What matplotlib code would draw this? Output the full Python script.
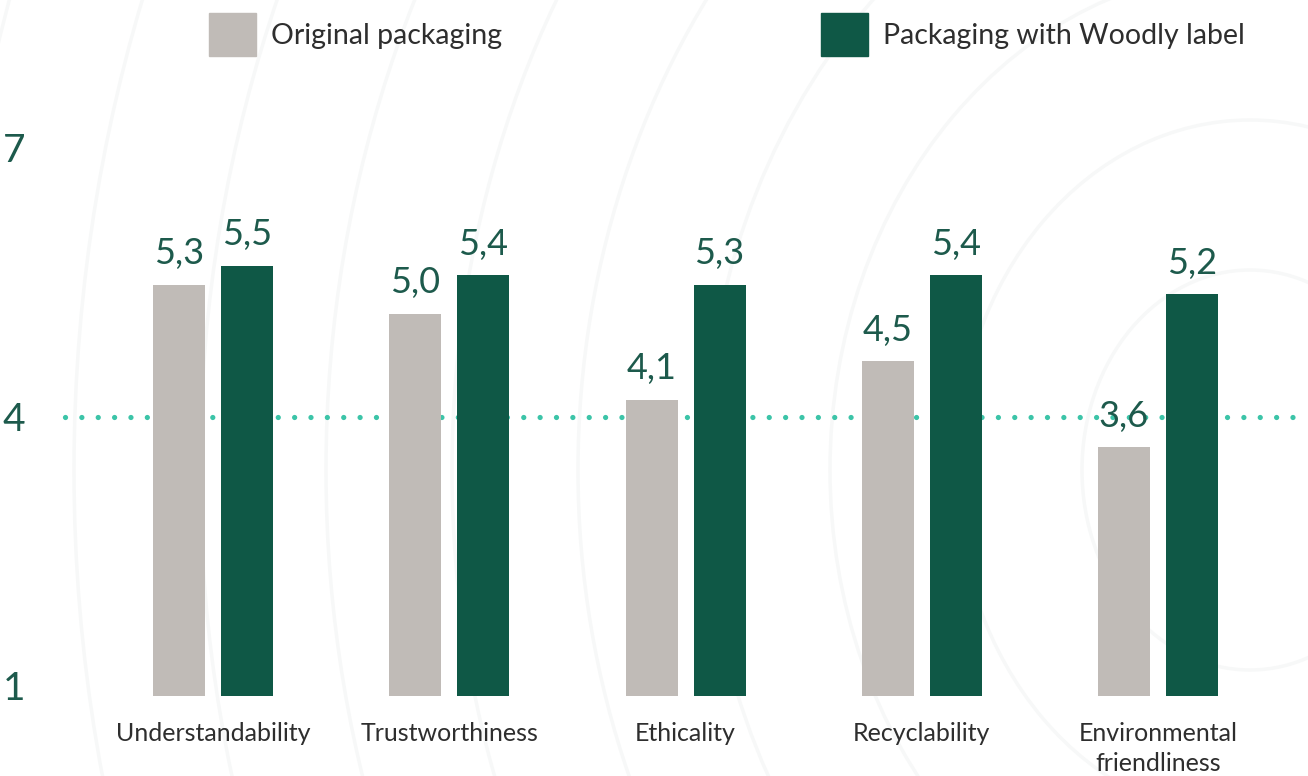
import matplotlib
matplotlib.use("Agg")
import matplotlib.pyplot as plt
from matplotlib.patches import Patch, Ellipse
import numpy as np

# ---------------- data ----------------
categories = ["Understandability", "Trustworthiness", "Ethicality",
              "Recyclability", "Environmental\nfriendliness"]
original = [5.3, 5.0, 4.1, 4.5, 3.6]
woodly = [5.5, 5.4, 5.3, 5.4, 5.2]
series_names = ["Original packaging", "Packaging with Woodly label"]
scale_ticks = [1, 4, 7]
reference_value = 4

# ---------------- style ----------------
GRAY = "#c0bbb7"
GREEN = "#0f5846"
DOT = "#3cc4a8"
NUM = "#1d5a4c"
TXT = "#2e2e2e"
plt.rcParams["font.family"] = ["Lato", "DejaVu Sans"]

W, H, DPI = 1308, 776, 100
fig = plt.figure(figsize=(W / DPI, H / DPI), dpi=DPI)
fig.patch.set_facecolor("white")

# faint wood-grain background
bg = fig.add_axes([0, 0, 1, 1], zorder=-5)
bg.set_xlim(0, W); bg.set_ylim(H, 0); bg.axis("off")
for r in range(160, 1700, 120):
    bg.add_patch(Ellipse((1250, 470), 2 * r * 1.05, 2 * r * 1.25, fill=False,
                         ec="#f7f8f8", lw=2.5))

# axes geometry (pixels)
left_px, base_px = 36, 696
rect = [left_px / W, (H - base_px) / H, (W - left_px) / W, base_px / H]
c0, step = 213, 236.25
xlim = ((left_px - c0) / step, (W - c0) / step)

# reference scale axis (tick labels + dotted line)
ref = fig.add_axes(rect, zorder=1)
ppu_ref = (686 - 148) / 6.0
ref.set_ylim(1 - (base_px - 686) / ppu_ref, 1 + 686 / ppu_ref)
ref.set_xlim(*xlim)
ref.set_yticks(scale_ticks)
ref.set_yticklabels([str(t) for t in scale_ticks])
ref.tick_params(axis="y", length=0, pad=8, labelsize=28, labelcolor=NUM)
ref.set_xticks([])
for s in ref.spines.values():
    s.set_visible(False)
ref.patch.set_visible(False)
ref.plot([(65 - c0) / step, (1302 - c0) / step], [reference_value] * 2,
         color=DOT, lw=3.8, linestyle=(0, (0.001, 3.1)),
         dash_capstyle="round", solid_capstyle="round")

# bar axis
ax = fig.add_axes(rect, zorder=2)
ax.patch.set_visible(False)
ppu = 95.6
ax.set_ylim(1, 1 + base_px / ppu)
ax.set_xlim(*xlim)
x = np.arange(len(categories))
bw = 52 / step
off = 34 / step
b1 = ax.bar(x - off, np.array(original) - 1, bottom=1, width=bw, color=GRAY)
b2 = ax.bar(x + off, np.array(woodly) - 1, bottom=1, width=bw, color=GREEN)
for bars, vals in ((b1, original), (b2, woodly)):
    for b, v in zip(bars, vals):
        ax.annotate(f"{v:.1f}".replace(".", ","),
                    (b.get_x() + b.get_width() / 2, b.get_y() + b.get_height()),
                    xytext=(0, 15), textcoords="offset points",
                    ha="center", va="baseline", fontsize=26, color=NUM)
ax.set_xticks(x)
ax.set_xticklabels(categories, fontsize=18, color=TXT, linespacing=1.35)
ax.tick_params(axis="x", length=0, pad=19)
ax.set_yticks([])
for s in ax.spines.values():
    s.set_visible(False)

# legend
handles = [Patch(color=GRAY), Patch(color=GREEN)]
fs = 20.5
fpx = fs * DPI / 72
hh = (43 / fpx - 0.245) / 0.65
leg = fig.legend(handles, series_names, loc="upper left",
                 bbox_to_anchor=(209 / W, 1 - 13 / H), ncol=2, frameon=False,
                 fontsize=fs, handlelength=47 / fpx, handleheight=hh,
                 handletextpad=15 / fpx, columnspacing=319 / fpx,
                 borderpad=0, borderaxespad=0)
for t in leg.get_texts():
    t.set_color(TXT)

fig.savefig("out.png", dpi=DPI, facecolor="white")
